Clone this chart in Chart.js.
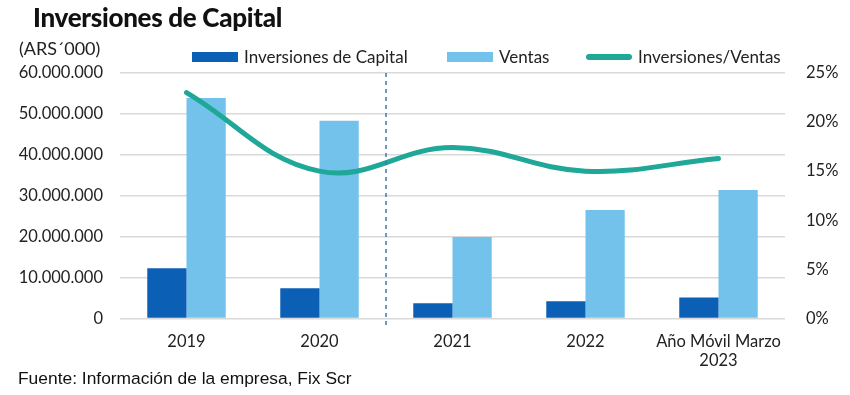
<!DOCTYPE html>
<html>
<head>
<meta charset="utf-8">
<script src="https://cdn.jsdelivr.net/npm/chart.js@4"></script>
<style>
  body { margin: 0; background: #fff; }
  #wrap { position: relative; width: 850px; height: 395px; font-family: Lato, sans-serif; color: #222; }
  #chart { position: absolute; left: 0; top: 0; }
  .title { position: absolute; left: 33px; top: 1px; font-size: 26px; font-weight: 900; color: #111; letter-spacing: -0.3px; }
  .unit { position: absolute; left: 19px; top: 37px; font-size: 18px; }
  .legend { position: absolute; top: 46px; font-size: 17px; display: flex; align-items: center; white-space: nowrap; }
  .legend i { display: inline-block; width: 46px; height: 10px; margin-right: 6px; }
  .legend i.line { height: 6px; border-radius: 3px; }
  .foot { position: absolute; left: 18px; top: 368px; font-family: "Liberation Sans", Arial, sans-serif; font-size: 17.4px; color: #111; }
</style>
</head>
<body>
<div id="wrap">
  <canvas id="chart" width="850" height="395"></canvas>
  <div class="title">Inversiones de Capital</div>
  <div class="unit">(ARS´000)</div>
  <div class="legend" style="left:192px"><i style="background:#0b60b6"></i>Inversiones de Capital</div>
  <div class="legend" style="left:447px"><i style="background:#72c2ec"></i>Ventas</div>
  <div class="legend" style="left:586px"><i class="line" style="background:#1fa797"></i>Inversiones/Ventas</div>
  <div class="foot">Fuente: Información de la empresa, Fix Scr</div>
</div>
<script>
// ── DATA ──────────────────────────────
const categories = ['2019', '2020', '2021', '2022', ['Año Móvil Marzo', '2023']];
const inversiones = [12250000, 7350000, 3700000, 4200000, 5100000];
const ventas      = [53900000, 48300000, 19900000, 26500000, 31400000];
const ratio       = [23.0, 15.0, 17.4, 15.0, 16.3];
const leftTicks   = [0, 10000000, 20000000, 30000000, 40000000, 50000000, 60000000];
const rightTicks  = [0, 5, 10, 15, 20, 25];

const fmtMiles = v => v.toLocaleString('de-DE');

// dashed divider between 2020 and 2021
const dividerPlugin = {
  id: 'divider',
  afterDatasetsDraw(chart) {
    const { ctx, chartArea, scales } = chart;
    const x = (scales.x.getPixelForValue(1) + scales.x.getPixelForValue(2)) / 2;
    ctx.save();
    ctx.strokeStyle = '#3f78b0';
    ctx.lineWidth = 1.5;
    ctx.setLineDash([4, 4]);
    ctx.beginPath();
    ctx.moveTo(x, chartArea.top);
    ctx.lineTo(x, chartArea.bottom + 8);
    ctx.stroke();
    ctx.restore();
  },
};

const tickFont = { family: 'Lato', size: 16.5 };

new Chart(document.getElementById('chart'), {
  type: 'bar',
  data: {
    labels: categories,
    datasets: [
      {
        type: 'line',
        label: 'Inversiones/Ventas',
        data: ratio,
        yAxisID: 'y2',
        borderColor: '#1fa797',
        borderWidth: 5,
        tension: 0.4,
        pointRadius: 0,
        borderCapStyle: 'round',
        order: 0,
      },
      {
        label: 'Inversiones de Capital',
        data: inversiones,
        backgroundColor: '#0b60b6',
        categoryPercentage: 0.59,
        barPercentage: 1,
        order: 1,
      },
      {
        label: 'Ventas',
        data: ventas,
        backgroundColor: '#72c2ec',
        categoryPercentage: 0.59,
        barPercentage: 1,
        order: 1,
      },
    ],
  },
  options: {
    responsive: false,
    animation: false,
    layout: { padding: { top: 73, left: 15, right: 0, bottom: 19 } },
    plugins: { legend: { display: false }, tooltip: { enabled: false } },
    scales: {
      x: {
        grid: { display: false },
        border: { display: false },
        ticks: { font: tickFont, color: '#222', padding: 5, maxRotation: 0 },
      },
      y: {
        min: 0, max: 60000000,
        afterBuildTicks: s => { s.ticks = leftTicks.map(v => ({ value: v })); },
        afterFit: s => { s.width = 105; },
        grid: { color: '#d9d9d9', lineWidth: 1.5, drawTicks: false },
        border: { display: false },
        ticks: { font: tickFont, color: '#222', padding: 17, callback: v => fmtMiles(v) },
      },
      y2: {
        position: 'right',
        min: 0, max: 25,
        afterBuildTicks: s => { s.ticks = rightTicks.map(v => ({ value: v })); },
        afterFit: s => { s.width = 65; },
        grid: { display: false },
        border: { display: false },
        ticks: { font: tickFont, color: '#222', padding: 13, callback: v => v + '%' },
      },
    },
  },
  plugins: [dividerPlugin],
});
</script>
</body>
</html>
